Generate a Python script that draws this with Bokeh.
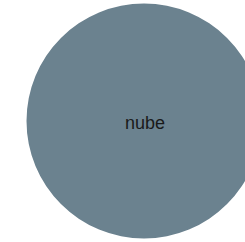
from bokeh.plotting import figure
from bokeh.models import Range1d, ColumnDataSource
from bokeh.core.properties import value
from bokeh.embed import file_html
from bokeh.resources import INLINE

# data
labels = ["nube"]
values = [1.0]
xs = [0.0]
ys = [0.0]

radius = [v ** 0.5 for v in values]
src = ColumnDataSource(dict(x=xs, y=ys, r=radius, label=labels))

W, H = 245, 242
CX, CY, R = 143.5, 120.5, 117.5
p = figure(width=W, height=H, output_backend="svg", toolbar_location=None,
           x_range=Range1d(-CX / R, (W - CX) / R),
           y_range=Range1d(-(H - CY) / R, CY / R),
           min_border=0, background_fill_color="white", border_fill_color="white")
p.axis.visible = False
p.grid.visible = False
p.outline_line_color = None

p.circle(x="x", y="y", radius="r", source=src, fill_color="#6b828f", line_color=None)
p.text(x="x", y="y", text="label", source=src, text_align="center", text_baseline="middle",
       text_font=value("Liberation Sans"), text_font_size="18px", text_color="#1a1a1a",
       y_offset=2, x_offset=1)

open("out.html", "w").write(file_html(p, INLINE))
